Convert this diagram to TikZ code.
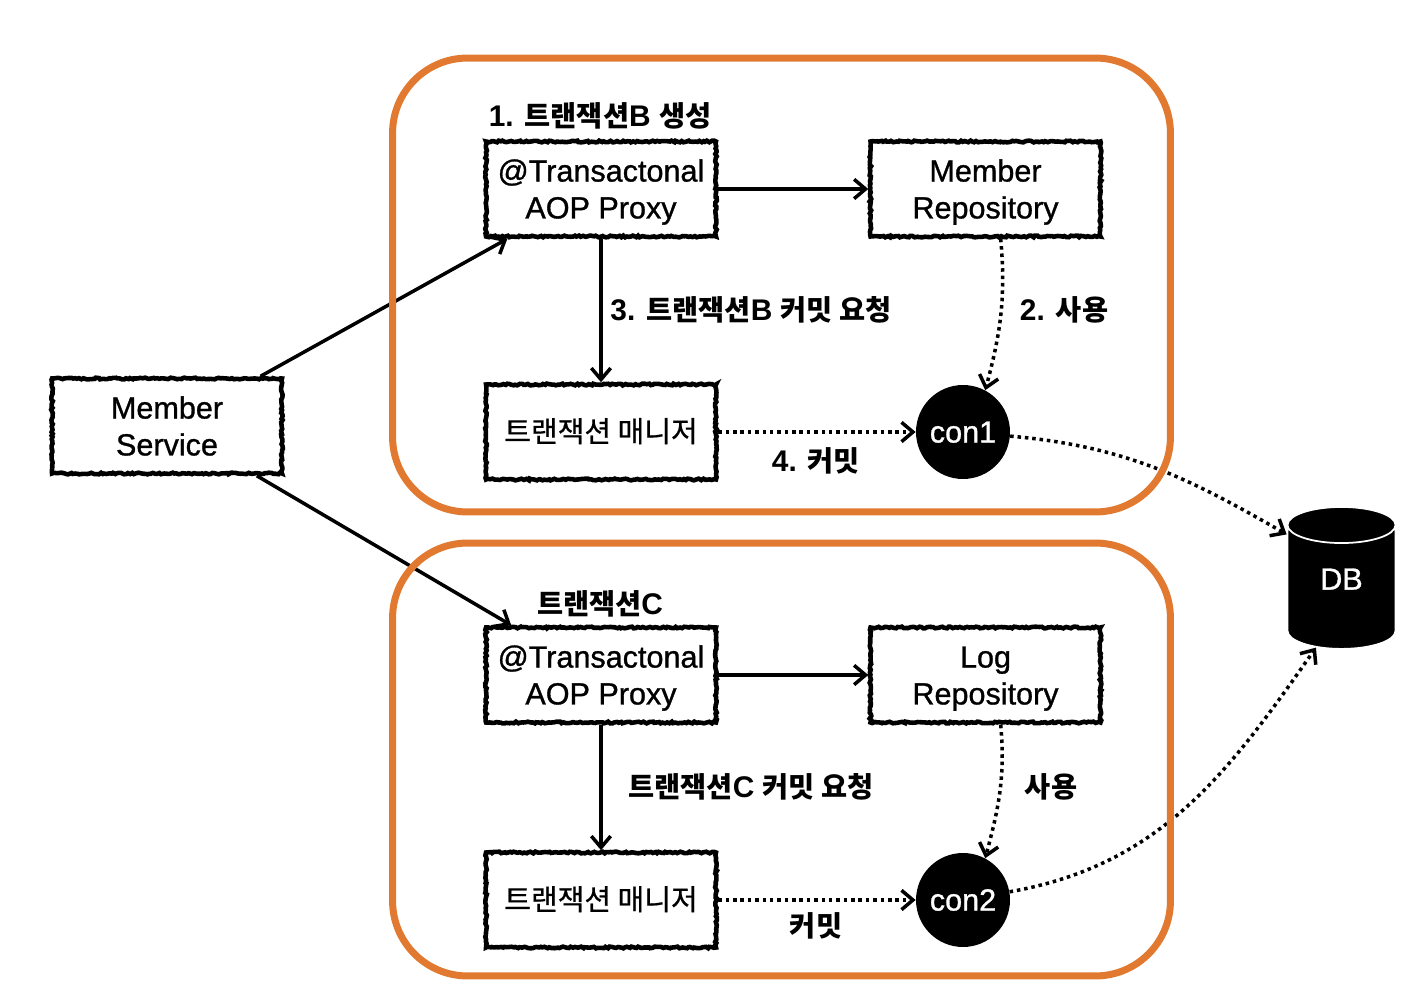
\documentclass[tikz,border=0pt]{standalone}
\usepackage{fontspec}
\setmainfont{Liberation Sans}
\newfontfamily\kr[Scale=0.95]{Noto Sans CJK KR}
\newfontfamily\krmed[Scale=0.95,FakeBold=0.6]{Noto Sans CJK KR}
\newfontfamily\medfont[FakeBold=1]{Liberation Sans}
\usepackage{tikz}
\usetikzlibrary{shapes,shapes.geometric,arrows.meta,decorations.pathmorphing}
\definecolor{boxorange}{HTML}{E17A30}
\tikzstyle{group} = [rectangle, draw=boxorange, line width=0.14cm, rounded corners=1.5cm, minimum width=15.56cm]
\tikzstyle{block} = [rectangle, draw, line width=2.6pt, fill=white, align=center, minimum width=4.6cm, minimum height=1.9cm, inner sep=0pt, decorate, decoration={random steps, segment length=1.2pt, amplitude=0.5pt}, font=\fontsize{17.4}{21}\selectfont\medfont, text height=33.5pt, text depth=0pt]
\tikzstyle{conn} = [circle, fill=black, text=white, minimum size=1.88cm, inner sep=0pt, font=\fontsize{17.4}{21}\selectfont\medfont, text height=12pt, text depth=0pt]
\tikzstyle{label} = [font=\fontsize{17}{21}\selectfont\bfseries]
\tikzstyle{line} = [draw, line width=2pt, -{Straight Barb[length=6.5pt,width=11pt]}]
\tikzstyle{dotline} = [line, dash pattern=on 2pt off 2.2pt]
\begin{document}
\begin{tikzpicture}[x=0.02cm,y=-0.02cm]
\useasboundingbox (0,0) rectangle (1426,996);
\node [block] (service) at (167,426) {Member\\Service};
\node [block] (proxyB) at (601,189) {@Transactonal\\AOP Proxy};
\node [block] (memberRepo) at (985.5,189) {Member\\Repository};
\node [block, text height=11.5pt] (managerB) at (601,432) {{\krmed 트랜잭션 매니저}};
\node [conn] (con1) at (963,432) {con1};
\node [block] (proxyC) at (601,675) {@Transactonal\\AOP Proxy};
\node [block] (logRepo) at (985.5,675) {Log\\Repository};
\node [block, text height=11.5pt] (managerC) at (601,900) {{\krmed 트랜잭션 매니저}};
\node [conn] (con2) at (963,900) {con2};
\node [cylinder, shape border rotate=90, aspect=0.85, draw=white, line width=1pt, cylinder uses custom fill, cylinder end fill=black, cylinder body fill=black, text=white, minimum width=2.16cm, minimum height=2.84cm, inner sep=0pt, font=\fontsize{17.4}{21}\selectfont\medfont, text height=12pt, text depth=9.5pt] (db) at (1341.5,587.4) {DB};
\node [label] (labelB) at (600,116) {1. {\kr 트랜잭션}B {\kr 생성}};
\node [label] (commitReqB) at (751,310) {3. {\kr 트랜잭션}B {\kr 커밋 요청}};
\node [label] (useB) at (1064,310) {2. {\kr 사용}};
\node [label] (commitB) at (816,461) {4. {\kr 커밋}};
\node [label] (labelC) at (600,604) {{\kr 트랜잭션}C};
\node [label] (commitReqC) at (751,787) {{\kr 트랜잭션}C {\kr 커밋 요청}};
\node [label] (useC) at (1051,787) {{\kr 사용}};
\node [label] (commitC) at (816,926) {{\kr 커밋}};
\path [line] (service.28) -- (proxyB.208.5);
\path [line] (service.-29) -- (proxyC.151.3);
\path [line] (proxyB) -- (memberRepo);
\path [line] (proxyB) -- (managerB);
\path [line] (proxyC) -- (logRepo);
\path [line] (proxyC) -- (managerC);
\path [dotline] (memberRepo.-73) to[out=-85,in=75] (con1.62);
\path [dotline] (logRepo.-73) to[out=-85,in=75] (con2.62);
\path [dotline] (managerB) -- (con1);
\path [dotline] (managerC) -- (con2);
\path [dotline] (con1.-5) to[out=-5,in=150] (db.136);
\path [dotline] (con2.10) to[out=10,in=-125] (db.-113);
\node [group, minimum height=9.08cm] (groupB) at (781.5,285) {};
\node [group, minimum height=8.66cm] (groupC) at (781.5,759.5) {};
\end{tikzpicture}
\end{document}
